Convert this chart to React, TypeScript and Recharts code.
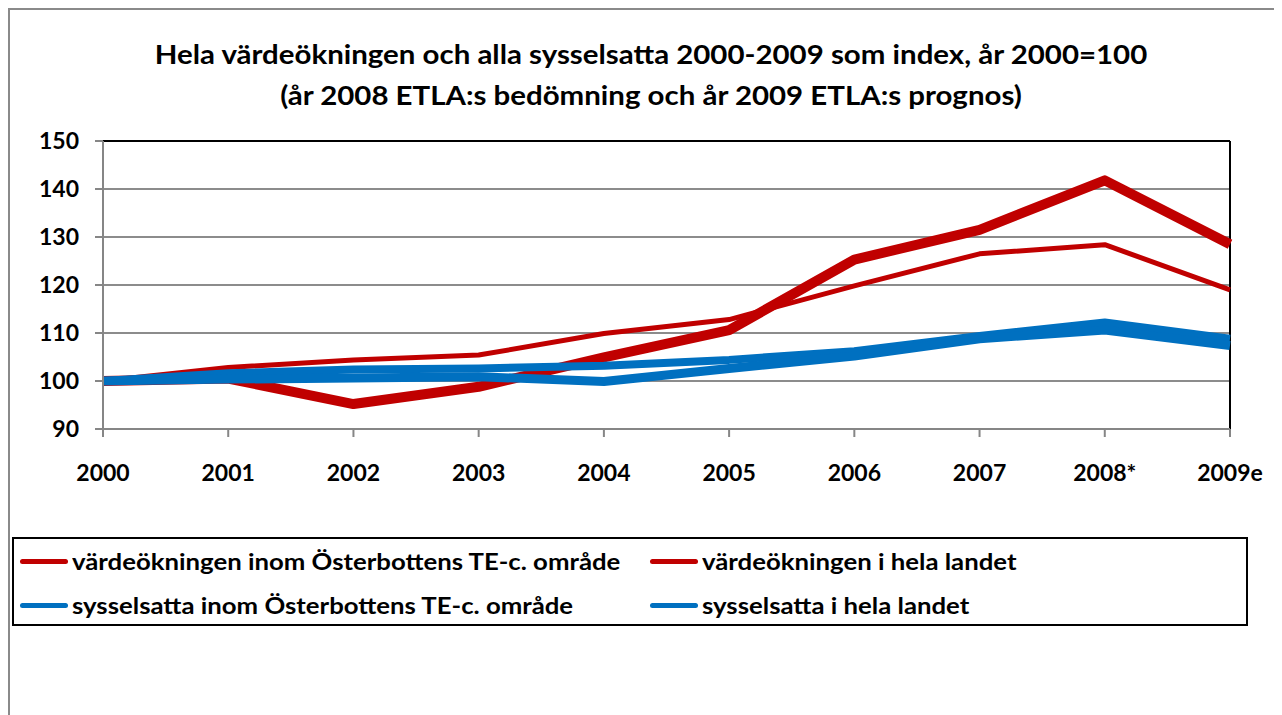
import React from "react";
import {
  LineChart,
  Line,
  XAxis,
  YAxis,
  CartesianGrid,
  ReferenceLine,
} from "recharts";

const years = ["2000", "2001", "2002", "2003", "2004", "2005", "2006", "2007", "2008*", "2009e"];
const vardeOsterbotten = [100, 100.5, 95.2, 98.8, 104.9, 110.6, 125.3, 131.5, 141.8, 128.5];
const vardeHelaLandet = [100, 102.8, 104.4, 105.4, 109.9, 112.8, 119.8, 126.5, 128.4, 119.0];
const sysselOsterbotten = [100, 100.4, 100.6, 100.9, 99.9, 102.6, 105.2, 108.8, 110.6, 107.4];
const sysselHelaLandet = [100, 101.6, 102.4, 102.6, 103.2, 104.4, 106.2, 109.4, 112.2, 108.8];
const yTicks = [90, 100, 110, 120, 130, 140, 150];

const titleLine1 = "Hela värdeökningen och alla sysselsatta 2000-2009 som index, år 2000=100";
const titleLine2 = "(år 2008 ETLA:s bedömning och år 2009 ETLA:s prognos)";

const seriesNames = [
  "värdeökningen inom Österbottens TE-c. område",
  "värdeökningen i hela landet",
  "sysselsatta inom Österbottens TE-c. område",
  "sysselsatta i hela landet",
];

const RED = "#C00000";
const BLUE = "#0070C0";
const FONT = "Lato, 'Open Sans', sans-serif";

const data = years.map((y, i) => ({
  year: y,
  vo: vardeOsterbotten[i],
  vh: vardeHelaLandet[i],
  so: sysselOsterbotten[i],
  sh: sysselHelaLandet[i],
}));

const legendItems = [
  { name: seriesNames[0], color: RED, col: 0 },
  { name: seriesNames[1], color: RED, col: 1 },
  { name: seriesNames[2], color: BLUE, col: 0 },
  { name: seriesNames[3], color: BLUE, col: 1 },
];

const LegendBox = () => (
  <div
    style={{
      position: "absolute",
      left: 2,
      top: 527,
      width: 1236,
      height: 89,
      border: "2px solid #000",
      boxSizing: "border-box",
      display: "grid",
      gridTemplateColumns: "634px 1fr",
      gridTemplateRows: "44px 44px",
      alignItems: "center",
      fontFamily: FONT,
      fontWeight: 700,
      fontSize: 22,
      color: "#000",
    }}
  >
    {legendItems.map((it) => (
      <div
        key={it.name}
        style={{ display: "flex", alignItems: "center", whiteSpace: "nowrap", paddingLeft: it.col === 0 ? 6 : 2 }}
      >
        <span
          style={{
            display: "inline-block",
            flex: "0 0 auto",
            width: 48,
            height: 5,
            borderRadius: 3,
            background: it.color,
            marginRight: 4,
          }}
        />
        <span style={{ display: "inline-block", transform: "scaleX(1.17)", transformOrigin: "left center" }}>
          {it.name}
        </span>
      </div>
    ))}
  </div>
);

const XTick = (props: any) => {
  const { x, y, payload } = props;
  return (
    <text
      x={x}
      y={y + 42}
      textAnchor="middle"
      fontFamily={FONT}
      fontWeight={700}
      fontSize={23}
      fill="#000"
    >
      {payload.value}
    </text>
  );
};

const YTick = (props: any) => {
  const { x, y, payload } = props;
  return (
    <text
      x={x - 14}
      y={y + 8}
      textAnchor="end"
      fontFamily={FONT}
      fontWeight={700}
      fontSize={23}
      fill="#000"
    >
      {payload.value}
    </text>
  );
};

export default function App() {
  return (
    <div
      style={{
        position: "relative",
        width: 1274,
        height: 707,
        borderTop: "2px solid #8a8a8a",
        borderLeft: "2px solid #8a8a8a",
        boxSizing: "border-box",
        background: "#fff",
        overflow: "hidden",
      }}
    >
      <div
        style={{
          position: "absolute",
          left: 0,
          top: 23,
          width: 1282,
          textAlign: "center",
          fontFamily: FONT,
          fontWeight: 700,
          fontSize: 27,
          lineHeight: "41px",
          color: "#000",
        }}
      >
        <div style={{ transform: "scaleX(1.09)" }}>{titleLine1}</div>
        <div style={{ transform: "scaleX(1.09)" }}>{titleLine2}</div>
      </div>
      <div style={{ position: "absolute", left: 0, top: 0 }}>
        <LineChart
          width={1272}
          height={705}
          data={data}
          margin={{ top: 131, right: 52, bottom: 226, left: 33 }}
        >
          <CartesianGrid vertical={false} stroke="#8c8c8c" strokeWidth={2} />
          <XAxis
            dataKey="year"
            stroke="#868686"
            strokeWidth={2}
            tickSize={8}
            height={60}
            tick={<XTick />}
            interval={0}
          />
          <YAxis
            domain={[90, 150]}
            ticks={yTicks}
            stroke="#868686"
            strokeWidth={2}
            tickSize={8}
            width={60}
            tick={<YTick />}
            interval={0}
          />
          <ReferenceLine y={150} stroke="#000" strokeWidth={2} />
          <ReferenceLine x="2009e" stroke="#000" strokeWidth={2} />
          <Line
            dataKey="vh"
            name={seriesNames[1]}
            stroke={RED}
            strokeWidth={5}
            dot={false}
            isAnimationActive={false}
            strokeLinejoin="round"
          />
          <Line
            dataKey="vo"
            name={seriesNames[0]}
            stroke={RED}
            strokeWidth={10}
            dot={false}
            isAnimationActive={false}
            strokeLinejoin="round"
          />
          <Line
            dataKey="sh"
            name={seriesNames[3]}
            stroke={BLUE}
            strokeWidth={8}
            dot={false}
            isAnimationActive={false}
            strokeLinejoin="round"
          />
          <Line
            dataKey="so"
            name={seriesNames[2]}
            stroke={BLUE}
            strokeWidth={9}
            dot={false}
            isAnimationActive={false}
            strokeLinejoin="round"
          />
        </LineChart>
      </div>
      <LegendBox />
    </div>
  );
}
